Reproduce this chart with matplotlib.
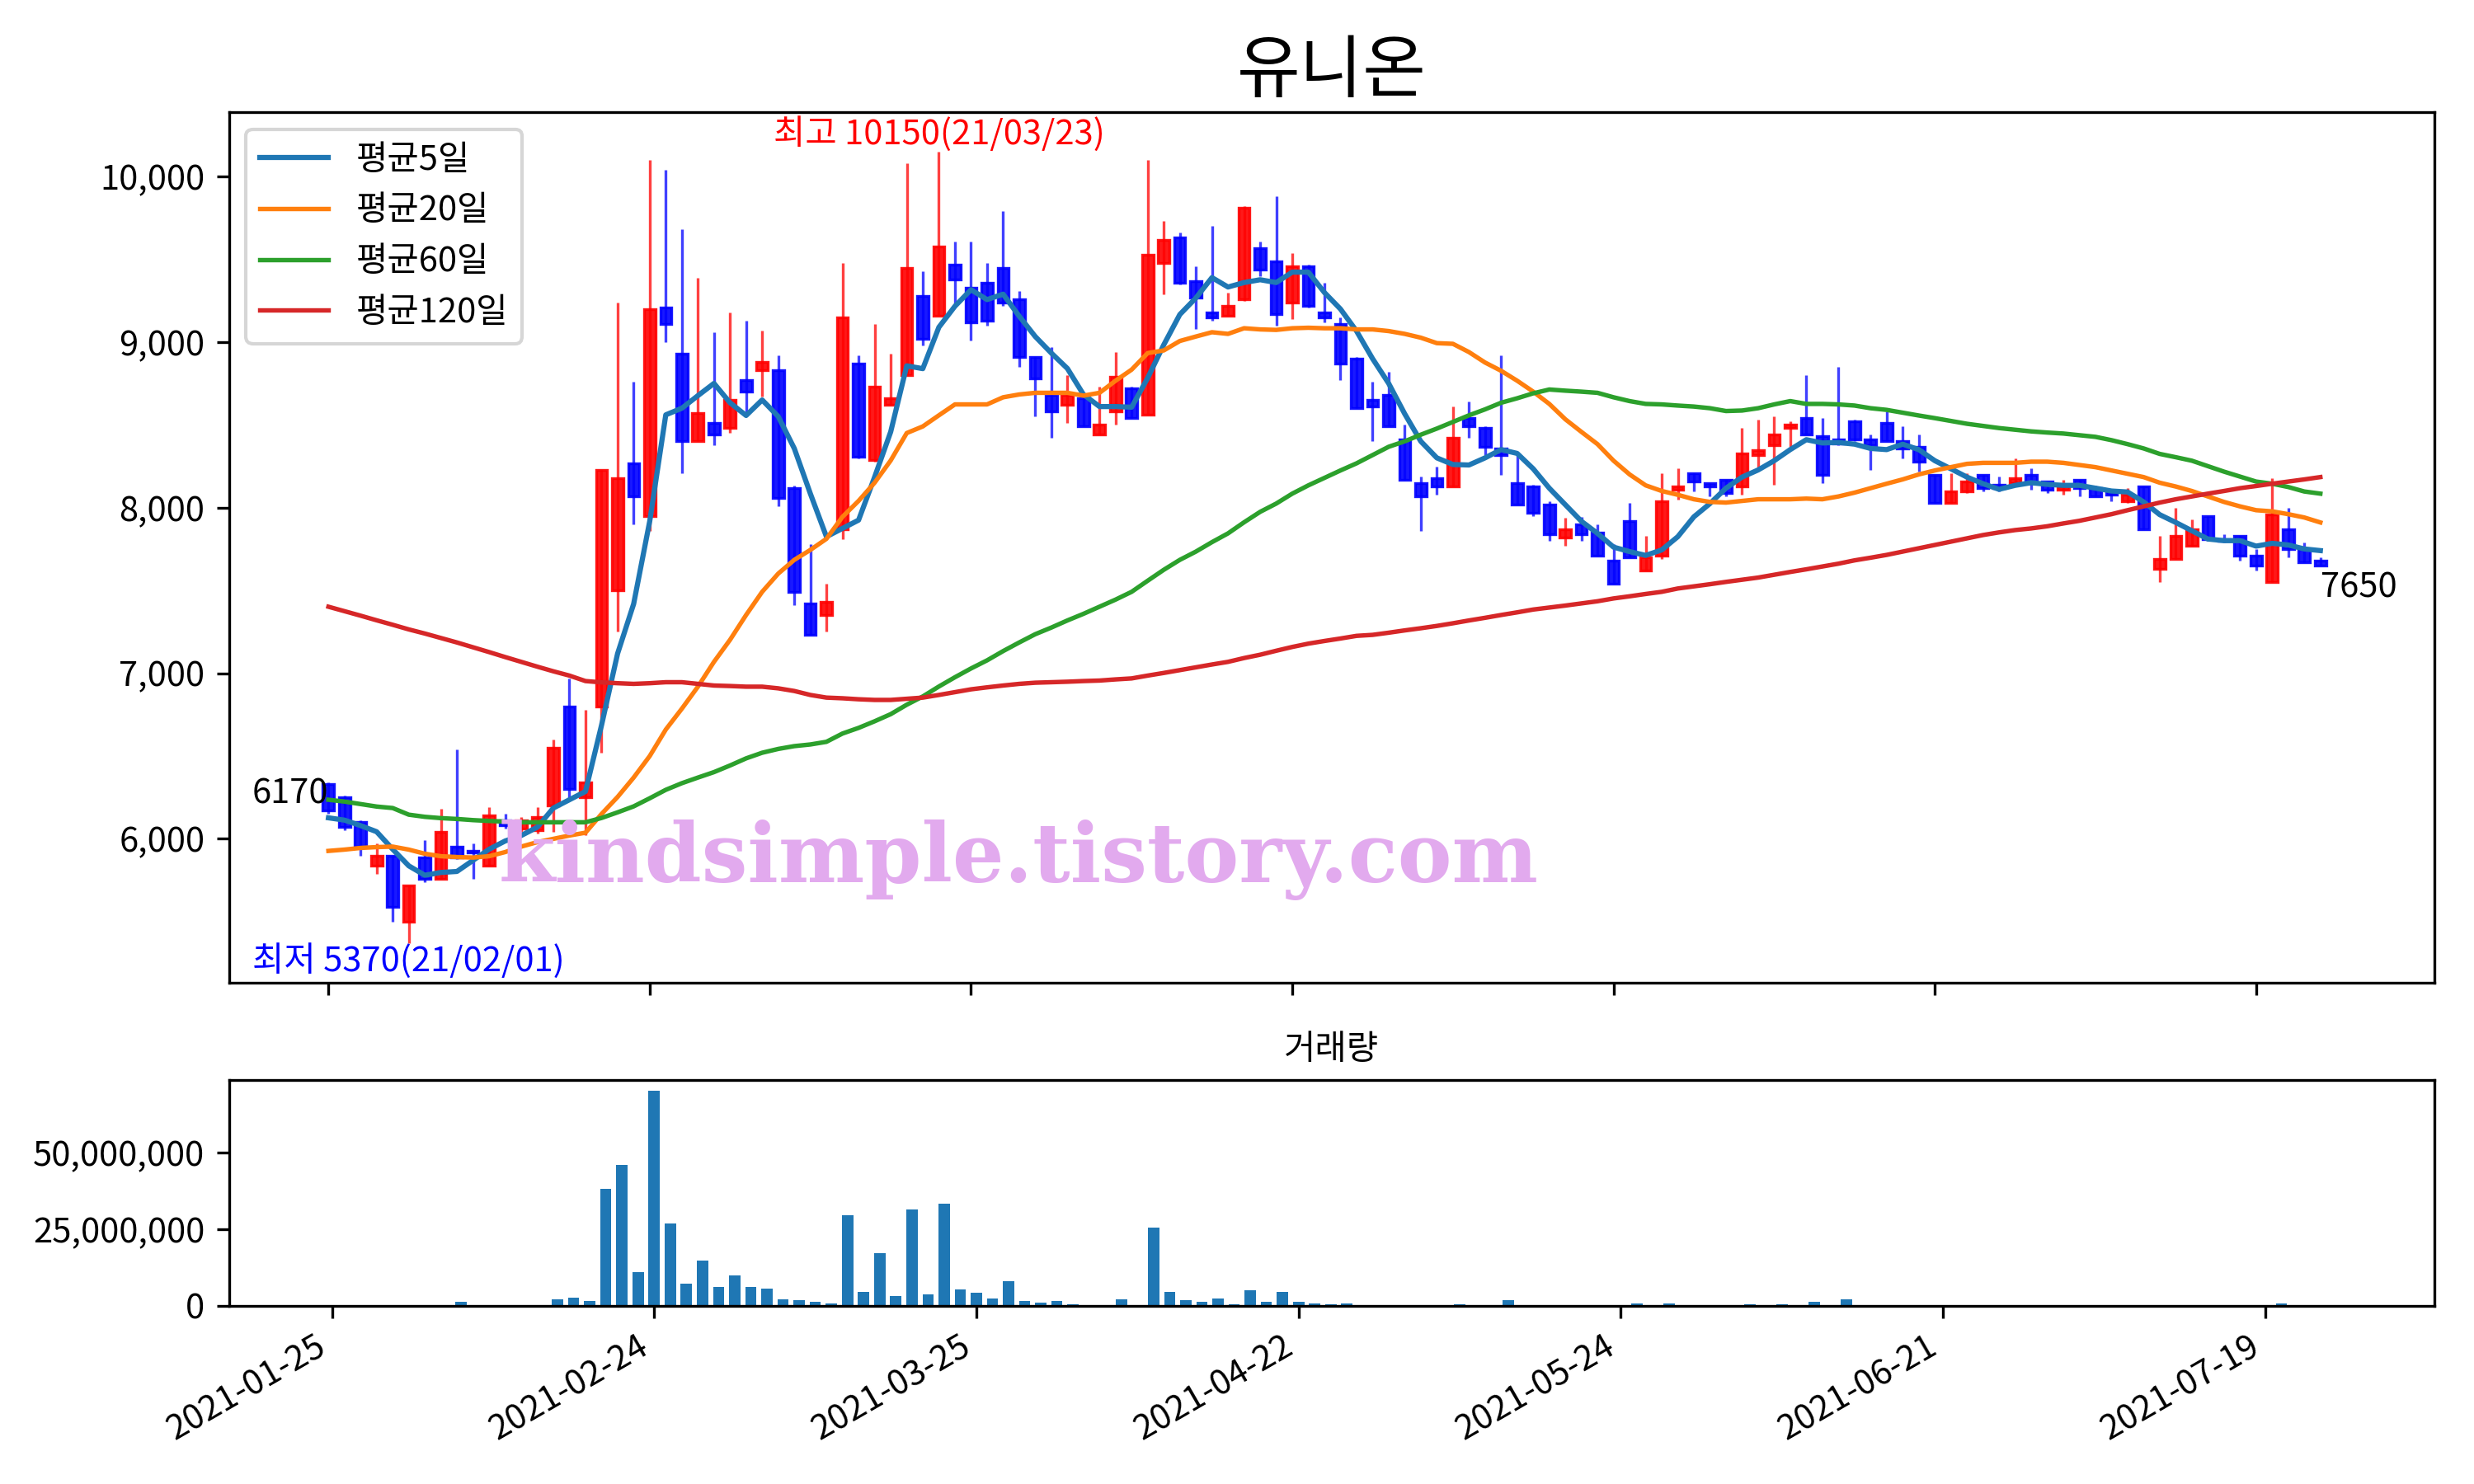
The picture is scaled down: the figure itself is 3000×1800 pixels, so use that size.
"""
plot.py - 유니온 daily candles with moving averages and volume.
"""

import matplotlib

matplotlib.use("Agg")
import matplotlib.pyplot as plt
import numpy as np
import pandas as pd
from matplotlib.ticker import FuncFormatter

plt.rcParams["font.family"] = ["Noto Sans CJK KR", "DejaVu Sans"]
plt.rcParams["axes.unicode_minus"] = False

TITLE = "유니온"
KR_HOLIDAYS = ["2021-02-11", "2021-02-12", "2021-03-01", "2021-05-05", "2021-05-19"]
N_DAYS = 125

# OHLC (KRW)
opens = [6330, 6250, 6100, 5840, 5900, 5500, 5890, 5760, 5950, 5930,
         5840, 6110, 6060, 6050, 6200, 6800, 6250, 6800, 7500, 8270,
         7950, 9210, 8930, 8400, 8510, 8480, 8770, 8830, 8830, 8120,
         7420, 7350, 7870, 8870, 8290, 8620, 8800, 9280, 9160, 9470,
         9330, 9360, 9450, 9260, 8910, 8680, 8620, 8660, 8440, 8580,
         8720, 8560, 9480, 9630, 9370, 9180, 9160, 9260, 9570, 9490,
         9240, 9460, 9180, 9110, 8900, 8650, 8680, 8410, 8150, 8180,
         8130, 8540, 8480, 8360, 8150, 8130, 8020, 7820, 7900, 7850,
         7680, 7920, 7620, 7710, 8110, 8210, 8150, 8170, 8130, 8320,
         8380, 8480, 8540, 8430, 8410, 8520, 8410, 8510, 8400, 8370,
         8200, 8030, 8100, 8200, 8140, 8150, 8200, 8160, 8110, 8170,
         8120, 8100, 8040, 8130, 7630, 7690, 7770, 7950, 7810, 7830,
         7710, 7550, 7870, 7750, 7680]
highs = [6340, 6260, 6110, 5970, 5900, 5720, 5990, 6180, 6540, 5970,
         6190, 6150, 6130, 6190, 6600, 6970, 6780, 8230, 9240, 8760,
         10100, 10040, 9680, 9390, 9060, 9180, 9130, 9070, 8920, 8135,
         7780, 7540, 9480, 8920, 9110, 8930, 10080, 9430, 10150, 9610,
         9610, 9480, 9790, 9310, 8910, 8970, 8800, 8670, 8730, 8940,
         8730, 10100, 9730, 9660, 9460, 9700, 9300, 9820, 9610, 9880,
         9540, 9470, 9360, 9150, 8910, 8760, 8820, 8500, 8190, 8250,
         8610, 8640, 8490, 8920, 8320, 8140, 8040, 7940, 7945, 7900,
         7780, 8030, 7830, 8210, 8240, 8210, 8150, 8170, 8480, 8530,
         8550, 8520, 8800, 8540, 8850, 8530, 8440, 8580, 8490, 8440,
         8200, 8210, 8210, 8200, 8190, 8300, 8240, 8160, 8170, 8170,
         8135, 8100, 8120, 8130, 7830, 8000, 7930, 7950, 7840, 7830,
         7750, 8180, 8000, 7790, 7700]
lows = [6150, 6050, 5900, 5790, 5500, 5370, 5740, 5760, 5880, 5760,
        5840, 6060, 6040, 6030, 6040, 6240, 6020, 6520, 7250, 7900,
        7860, 9000, 8210, 8400, 8380, 8450, 8570, 8670, 8010, 7410,
        7230, 7250, 7810, 8300, 8280, 8620, 8800, 8980, 9160, 9220,
        9010, 9100, 9220, 8850, 8550, 8420, 8510, 8490, 8440, 8500,
        8540, 8560, 9290, 9350, 9080, 9130, 9160, 9250, 9400, 9100,
        9140, 9210, 9120, 8770, 8600, 8400, 8490, 8170, 7860, 8080,
        8130, 8420, 8320, 8200, 8020, 7950, 7800, 7770, 7800, 7710,
        7540, 7700, 7620, 7690, 8050, 8100, 8070, 8070, 8080, 8230,
        8140, 8370, 8440, 8150, 8380, 8400, 8230, 8400, 8300, 8220,
        8030, 8030, 8090, 8100, 8100, 8150, 8110, 8090, 8080, 8070,
        8070, 8040, 8030, 7870, 7550, 7690, 7770, 7800, 7790, 7680,
        7620, 7550, 7700, 7670, 7650]
closes = [6170, 6070, 5950, 5900, 5590, 5720, 5760, 6040, 5890, 5920,
          6140, 6080, 6110, 6130, 6550, 6300, 6340, 8230, 8180, 8070,
          9200, 9110, 8400, 8570, 8440, 8650, 8700, 8880, 8060, 7490,
          7230, 7430, 9150, 8310, 8730, 8660, 9450, 9020, 9580, 9380,
          9120, 9130, 9240, 8910, 8780, 8580, 8680, 8490, 8500, 8790,
          8540, 9530, 9620, 9360, 9270, 9150, 9220, 9810, 9440, 9170,
          9460, 9220, 9150, 8870, 8600, 8610, 8490, 8170, 8070, 8130,
          8420, 8490, 8370, 8320, 8020, 7970, 7840, 7870, 7840, 7710,
          7540, 7700, 7700, 8040, 8130, 8160, 8130, 8090, 8330, 8350,
          8440, 8500, 8440, 8200, 8390, 8410, 8380, 8400, 8360, 8280,
          8030, 8100, 8160, 8120, 8120, 8180, 8150, 8110, 8130, 8120,
          8070, 8080, 8080, 7870, 7690, 7830, 7870, 7810, 7800, 7710,
          7650, 7960, 7750, 7670, 7650]

# moving averages as drawn (they include days before the window)
ma5 = [6127, 6113, 6080, 6043, 5937, 5837, 5780, 5797, 5803, 5870,
       5937, 5987, 6020, 6070, 6186, 6236, 6286, 6686, 7119, 7419,
       7918, 8561, 8601, 8677, 8751, 8634, 8557, 8651, 8551, 8358,
       8085, 7825, 7875, 7925, 8185, 8458, 8857, 8840, 9090, 9217,
       9317, 9257, 9290, 9157, 9034, 8934, 8841, 8684, 8611, 8611,
       8607, 8784, 8984, 9167, 9267, 9390, 9333, 9360, 9377, 9360,
       9423, 9423, 9300, 9200, 9067, 8900, 8751, 8567, 8401, 8301,
       8261, 8258, 8301, 8351, 8328, 8235, 8118, 8018, 7918, 7845,
       7762, 7735, 7712, 7745, 7825, 7945, 8025, 8118, 8185, 8228,
       8284, 8351, 8411, 8391, 8394, 8384, 8358, 8351, 8384, 8351,
       8284, 8235, 8185, 8145, 8111, 8135, 8151, 8141, 8135, 8135,
       8118, 8101, 8095, 8035, 7958, 7911, 7861, 7811, 7801, 7801,
       7768, 7785, 7775, 7751, 7741]
ma20 = [5927, 5935, 5945, 5950, 5953, 5935, 5910, 5895, 5890, 5887,
        5895, 5920, 5953, 5980, 6000, 6020, 6037, 6150, 6253, 6370,
        6500, 6660, 6786, 6919, 7069, 7202, 7352, 7492, 7602, 7685,
        7745, 7812, 7945, 8041, 8151, 8285, 8451, 8491, 8558, 8624,
        8624, 8624, 8667, 8684, 8694, 8694, 8694, 8677, 8694, 8767,
        8834, 8934, 8950, 9007, 9034, 9060, 9050, 9084, 9077, 9074,
        9084, 9087, 9084, 9084, 9077, 9077, 9067, 9050, 9027, 8994,
        8990, 8940, 8877, 8827, 8767, 8701, 8627, 8534, 8458, 8384,
        8284, 8201, 8135, 8101, 8078, 8051, 8035, 8031, 8041, 8051,
        8051, 8051, 8055, 8051, 8068, 8091, 8118, 8145, 8171, 8201,
        8225, 8245, 8265, 8271, 8271, 8271, 8278, 8278, 8271, 8258,
        8245, 8225, 8205, 8185, 8151, 8128, 8101, 8068, 8035, 8008,
        7985, 7978, 7961, 7941, 7911]
ma60 = [6236, 6225, 6210, 6195, 6186, 6146, 6133, 6125, 6120, 6113,
        6108, 6104, 6100, 6100, 6100, 6100, 6100, 6126, 6160, 6196,
        6245, 6296, 6336, 6370, 6403, 6443, 6486, 6520, 6543, 6560,
        6570, 6586, 6636, 6670, 6710, 6753, 6810, 6860, 6920, 6976,
        7029, 7078, 7134, 7186, 7236, 7276, 7319, 7359, 7402, 7445,
        7492, 7559, 7625, 7685, 7735, 7792, 7845, 7912, 7975, 8025,
        8085, 8135, 8180, 8225, 8268, 8318, 8368, 8401, 8441, 8478,
        8518, 8558, 8594, 8634, 8661, 8691, 8714, 8707, 8701, 8694,
        8667, 8644, 8627, 8624, 8617, 8611, 8601, 8584, 8587, 8601,
        8624, 8644, 8627, 8627, 8624, 8617, 8601, 8591, 8574, 8557,
        8541, 8524, 8507, 8494, 8481, 8471, 8461, 8454, 8448, 8438,
        8428, 8408, 8384, 8358, 8325, 8305, 8284, 8251, 8218, 8188,
        8158, 8145, 8125, 8098, 8085]
ma120 = [7402, 7375, 7348, 7320, 7293, 7265, 7240, 7213, 7186, 7157,
         7128, 7098, 7069, 7040, 7012, 6986, 6953, 6945, 6940, 6936,
         6940, 6946, 6946, 6936, 6926, 6923, 6919, 6919, 6909, 6893,
         6869, 6853, 6849, 6843, 6839, 6839, 6846, 6853, 6869, 6886,
         6903, 6915, 6926, 6936, 6943, 6946, 6949, 6953, 6956, 6963,
         6969, 6986, 7002, 7019, 7036, 7053, 7069, 7092, 7112, 7136,
         7159, 7179, 7195, 7210, 7226, 7232, 7245, 7259, 7272, 7286,
         7302, 7319, 7335, 7352, 7368, 7385, 7397, 7409, 7422, 7435,
         7452, 7465, 7479, 7492, 7512, 7525, 7538, 7552, 7565, 7578,
         7595, 7612, 7628, 7645, 7662, 7682, 7698, 7715, 7735, 7755,
         7775, 7795, 7815, 7835, 7851, 7865, 7875, 7888, 7905, 7921,
         7941, 7961, 7985, 8008, 8031, 8051, 8068, 8085, 8101, 8118,
         8131, 8145, 8158, 8171, 8185]

volumes = [200000, 50000, 50000, 50000, 50000, 50000, 50000, 200000, 1260000, 50000,
           200000, 50000, 50000, 50000, 2070000, 2600000, 1500000, 38200000, 46000000, 11000000,
           70300000, 26900000, 7200000, 14700000, 6100000, 9900000, 6100000, 5600000, 2100000, 1800000,
           1260000, 700000, 29600000, 4500000, 17200000, 3100000, 31500000, 3700000, 33400000, 5300000,
           4200000, 2300000, 8000000, 1500000, 1000000, 1500000, 450000, 200000, 200000, 2100000,
           200000, 25500000, 4500000, 1800000, 1260000, 2300000, 450000, 5000000, 1260000, 4500000,
           1260000, 700000, 450000, 700000, 200000, 200000, 200000, 50000, 50000, 50000,
           450000, 50000, 50000, 1800000, 50000, 50000, 50000, 50000, 50000, 50000,
           50000, 700000, 50000, 700000, 50000, 50000, 50000, 50000, 450000, 200000,
           450000, 50000, 1260000, 200000, 2070000, 50000, 200000, 50000, 50000, 50000,
           50000, 50000, 50000, 50000, 50000, 50000, 50000, 50000, 50000, 50000,
           50000, 50000, 50000, 50000, 50000, 50000, 50000, 50000, 50000, 50000,
           50000, 700000, 50000, 50000, 50000]

ma_labels = ["평균5일", "평균20일", "평균60일", "평균120일"]
watermark = "kindsimple.tistory.com"


def main() -> None:
    dates = pd.bdate_range("2021-01-25", periods=N_DAYS, freq="C", holidays=KR_HOLIDAYS)
    x = np.arange(N_DAYS)
    o = np.array(opens)
    h = np.array(highs)
    l = np.array(lows)
    c = np.array(closes)
    up = c >= o

    fig = plt.figure(figsize=(10, 6), dpi=300)
    ax = fig.add_axes([0.0925, 0.3378, 0.8915, 0.5866])
    axv = fig.add_axes([0.0925, 0.12, 0.8915, 0.1522])

    # candles: red = up, blue = down
    for mask, col in ((up, "red"), (~up, "blue")):
        ax.vlines(x[mask], l[mask], h[mask], color=col, alpha=0.75, lw=0.8, zorder=1)
        ax.bar(x[mask], c[mask] - o[mask], bottom=o[mask], width=0.7,
               color=col, edgecolor=col, alpha=0.9, lw=0.8, zorder=2)

    for ys, lab, col, lw in zip((ma5, ma20, ma60, ma120), ma_labels,
                                ("C0", "C1", "C2", "C3"), (1.5, 1.3, 1.3, 1.3)):
        ax.plot(x, ys, color=col, lw=lw, label=lab, zorder=3)

    ax.legend(loc="upper left", fontsize=10)
    ax.set_title(TITLE, fontsize=20)

    # first / last close, lowest / highest price
    ax.text(x[0], c[0], f"{c[0]}", ha="right", va="bottom", fontsize=10)
    ax.text(x[-1], c[-1] - 30, f"{c[-1]}", ha="left", va="top", fontsize=10)
    i_lo = int(np.argmin(l))
    i_hi = int(np.argmax(h))
    ax.text(x[i_lo], l[i_lo], f"최저 {l[i_lo]}({dates[i_lo]:%y/%m/%d})",
            ha="center", va="top", color="blue", fontsize=10)
    ax.text(x[i_hi], h[i_hi], f"최고 {h[i_hi]}({dates[i_hi]:%y/%m/%d})",
            ha="center", va="bottom", color="red", fontsize=10)

    ax.text(0.358, 0.141, watermark, transform=ax.transAxes, ha="center", va="center",
            fontsize=23.7, fontweight="heavy", family="DejaVu Serif", color="#e2aaee", zorder=5)

    ticks = x[::20]
    ax.set_xticks(ticks)
    ax.set_xticklabels([])
    ax.set_xlim(-6.2, 131.1)
    ax.set_ylim(5131, 10389)
    ax.yaxis.set_major_formatter(FuncFormatter(lambda v, _: f"{v:,.0f}"))

    axv.bar(x, volumes, width=0.7, color="C0")
    axv.set_title("거래량", fontsize=10)
    axv.set_xticks(ticks)
    axv.set_xticklabels([f"{d:%Y-%m-%d}" for d in dates[::20]], rotation=30, ha="right")
    axv.set_xlim(-6.4, 130.5)
    axv.yaxis.set_major_locator(plt.MultipleLocator(25_000_000))
    axv.yaxis.set_major_formatter(FuncFormatter(lambda v, _: f"{v:,.0f}"))

    fig.savefig("out.png", dpi=300)
    plt.close(fig)


if __name__ == "__main__":
    main()
